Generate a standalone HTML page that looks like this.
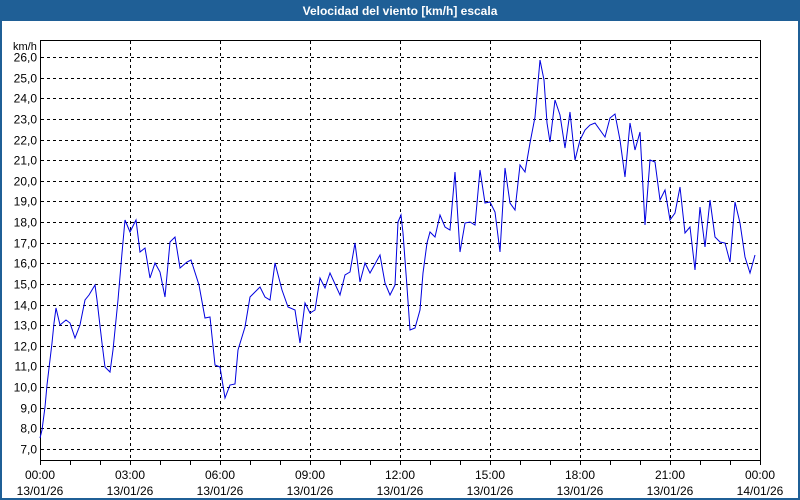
<!DOCTYPE html>
<html><head><meta charset="utf-8"><style>
html,body{margin:0;padding:0;background:#fff;}
svg{display:block;font-family:"Liberation Sans",Tahoma,sans-serif;}
</style></head><body>
<svg width="800" height="500" viewBox="0 0 800 500" xmlns="http://www.w3.org/2000/svg">
<rect x="0" y="0" width="800" height="500" fill="#fff"/>
<rect x="1" y="1" width="798" height="498" fill="none" stroke="#1f5f96" stroke-width="2"/>
<rect x="0" y="0" width="800" height="21" fill="#1f5f96"/>
<text x="400" y="15" fill="#fff" font-size="12" font-weight="bold" text-anchor="middle">Velocidad del viento [km/h] escala</text>
<g id="grid" stroke="#000" stroke-width="1" stroke-dasharray="3,3" shape-rendering="crispEdges"></g>
<g id="ylab" font-size="12" fill="#000" text-anchor="end"></g>
<text x="13" y="50" font-size="11">km/h</text>
<line x1="40.5" y1="40" x2="40.5" y2="461" stroke="#000" shape-rendering="crispEdges"/>
<line x1="40" y1="460.5" x2="760" y2="460.5" stroke="#000" shape-rendering="crispEdges"/>
<line x1="760.5" y1="40" x2="760.5" y2="461" stroke="#000" shape-rendering="crispEdges"/>
<line x1="40" y1="40.5" x2="761" y2="40.5" stroke="#000" shape-rendering="crispEdges"/>
<g id="xt" stroke="#000" shape-rendering="crispEdges"></g>
<g id="xlab" font-size="12" fill="#000" text-anchor="middle"></g>
<polyline fill="none" stroke="#0000e0" stroke-width="1" points="40,438 42,430 45,407 47,385 52,343 54,323 56,308 60,325 66,320 70,323 75,338 80,325 85,300 89,295 95,285 97,300 102,343 105,367 110,372 113,350 118,300 122,253 125,220 130,232 136,220 140,252 145,248 150,278 155,263 160,272 165,297 170,242 175,237 180,268 187,262 191,260 199,285 205,318 210,317 215,365 220,367 225,398 230,385 235,384 238,350 245,327 250,297 255,292 260,287 265,297 270,300 275,263 282,290 288,307 295,310 300,343 305,303 310,313 315,310 320,278 325,288 330,273 340,295 345,275 350,272 355,243 360,282 365,263 370,273 380,255 385,283 390,295 395,285 398,222 401,215 403,233 407,287 410,330 415,328 420,310 423,273 427,243 430,232 435,237 440,215 445,227 450,230 455,172 460,252 465,223 470,222 475,225 480,170 485,203 490,202 495,212 500,252 505,168 510,203 515,210 520,165 525,172 530,143 535,117 540,60 544,80 547,123 550,142 555,100 560,115 565,148 570,112 575,160 580,140 585,130 590,125 595,123 605,137 610,118 615,114 620,140 625,177 630,123 635,150 640,132 645,225 650,160 655,162 660,200 665,190 670,220 675,213 680,187 685,233 690,227 695,270 700,207 705,247 710,200 715,237 720,242 725,243 730,262 735,202 740,223 745,257 750,273 755,255"/>
<script>
var ns="http://www.w3.org/2000/svg";
function el(p,t,a,txt){var e=document.createElementNS(ns,t);for(var k in a)e.setAttribute(k,a[k]);if(txt)e.textContent=txt;document.getElementById(p).appendChild(e);}
for(var v=7;v<=26;v++){var y=Math.round(449-(v-7)*20.63)+0.5;
el("grid","line",{x1:41,y1:y,x2:760,y2:y});
el("ylab","text",{x:37,y:y+4},v+",0");}
for(var i=1;i<8;i++){var x=40+i*90+0.5;el("grid","line",{x1:x,y1:41,x2:x,y2:460});}
for(var i=0;i<=48;i++){var x=40+i*15+0.5;if(i%2==0)el("xt","line",{x1:x,y1:460,x2:x,y2:465});}
var hrs=["00:00","03:00","06:00","09:00","12:00","15:00","18:00","21:00","00:00"];
for(var i=0;i<9;i++){var x=40+i*90;el("xlab","text",{x:x,y:479},hrs[i]);el("xlab","text",{x:x,y:495},i==8?"14/01/26":"13/01/26");}
</script>
</svg>
</body></html>
